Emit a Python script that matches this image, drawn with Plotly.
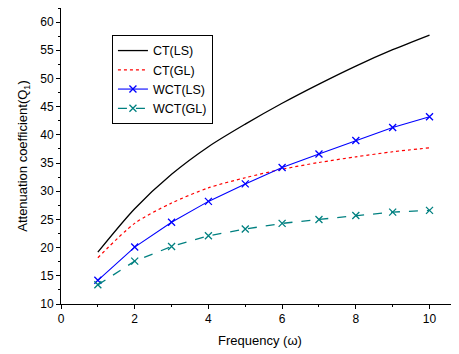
import plotly.graph_objects as go

freq = [1, 2, 3, 4, 5, 6, 7, 8, 9, 10]
ct_ls = [19.2, 26.9, 33.0, 37.9, 41.9, 45.6, 49.0, 52.2, 55.1, 57.7]
ct_gl = [18.2, 24.3, 27.9, 30.6, 32.4, 33.9, 35.1, 36.1, 37.0, 37.7]
wct_ls = [14.2, 20.1, 24.5, 28.2, 31.3, 34.2, 36.6, 39.0, 41.3, 43.2]
wct_gl = [13.4, 17.6, 20.2, 22.1, 23.3, 24.3, 25.0, 25.7, 26.3, 26.6]

FONT = "Liberation Sans, Arial, sans-serif"

fig = go.Figure()
fig.add_trace(go.Scatter(x=freq, y=ct_ls, name="CT(LS)", mode="lines",
                         line=dict(color="black", width=1.3, shape="spline", smoothing=0.8)))
fig.add_trace(go.Scatter(x=freq, y=ct_gl, name="CT(GL)", mode="lines",
                         line=dict(color="#ff0000", width=1.2, dash="dot", shape="spline", smoothing=0.8)))
fig.add_trace(go.Scatter(x=freq, y=wct_ls, name="WCT(LS)", mode="lines+markers",
                         line=dict(color="#0000ff", width=1.1),
                         marker=dict(symbol="x-thin-open", size=7,
                                     line=dict(color="#0000ff", width=1.3))))
fig.add_trace(go.Scatter(x=freq, y=wct_gl, name="WCT(GL)", mode="lines+markers",
                         line=dict(color="#008080", width=1.3, dash="dash"),
                         marker=dict(symbol="x-thin-open", size=7,
                                     line=dict(color="#008080", width=1.3))))

fig.update_layout(
    width=451, height=346,
    margin=dict(l=53, r=0, t=0, b=50, autoexpand=False),
    paper_bgcolor="white", plot_bgcolor="white",
    font=dict(family=FONT, size=12, color="black"),
    showlegend=True,
    legend=dict(x=0.128, y=0.909, xanchor="left", yanchor="top",
                bordercolor="black", borderwidth=1, bgcolor="white",
                font=dict(family=FONT, size=12.5, color="black"),
                tracegroupgap=0, itemwidth=30),
    xaxis=dict(range=[0, 10.8], showgrid=False, zeroline=False,
               showline=True, linecolor="black", linewidth=1,
               ticks="outside", ticklen=4, tickwidth=1, tickcolor="black",
               tickvals=[0, 2, 4, 6, 8, 10],
               minor=dict(tickvals=[1, 3, 5, 7, 9], ticks="outside", ticklen=2,
                          tickcolor="black"),
               tickfont=dict(size=12),
               title=dict(text="Frequency (ω)", font=dict(size=13), standoff=10)),
    yaxis=dict(range=[10, 62.5], showgrid=False, zeroline=False,
               showline=True, linecolor="black", linewidth=1,
               ticks="outside", ticklen=4, tickwidth=1, tickcolor="black",
               tickvals=[10, 15, 20, 25, 30, 35, 40, 45, 50, 55, 60],
               minor=dict(tickvals=[12.5, 17.5, 22.5, 27.5, 32.5, 37.5, 42.5, 47.5, 52.5, 57.5, 62.5],
                          ticks="outside", ticklen=2, tickcolor="black"),
               tickfont=dict(size=12),
               title=dict(text="Attenuation coefficient(Q<sub>1</sub>)", font=dict(size=13), standoff=9)),
)

fig.write_html("out.html")
